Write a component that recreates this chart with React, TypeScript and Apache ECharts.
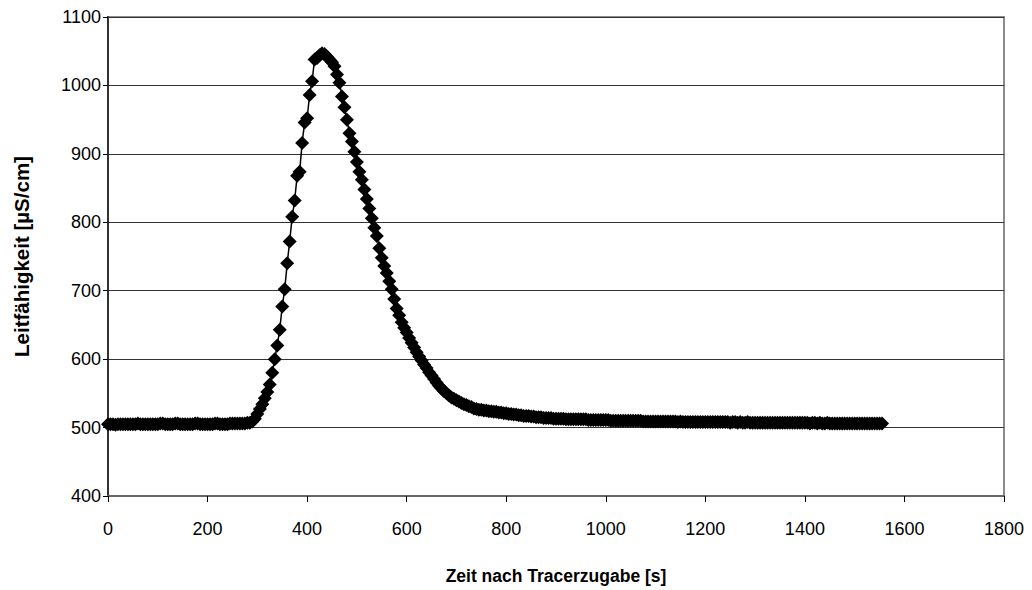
import React, { useEffect, useRef } from "react";
import * as echarts from "echarts";

// Axis ticks
const xTicks = { min: 0, max: 1800, interval: 200 };
const yTicks = { min: 400, max: 1100, interval: 100 };

const xAxisTitle = "Zeit nach Tracerzugabe [s]";
const yAxisTitle = "Leitfähigkeit [µS/cm]";

// Logger sampling interval [s]
const sampleInterval = 5;

// Conductivity readings [µS/cm], one every 5 s, split by phase
// baseline: t = 0 … 280 s
const baseline = [
  505, 505, 505, 504, 505, 505, 505, 505, 505, 505, 505, 505, 506, 505, 505, 505,
  505, 505, 505, 505, 505, 506, 506, 505, 505, 505, 505, 506, 506, 505, 505, 505,
  505, 505, 505, 506, 506, 505, 505, 505, 505, 505, 505, 506, 506, 505, 505, 505,
  505, 506, 506, 506, 506, 506, 506, 506, 507,
];
// rising limb: t = 285 … 435 s
const rise = [
  507, 509, 513, 520, 527, 534, 543, 552, 563, 580, 600, 620, 643, 677, 702, 740,
  772, 808, 832, 868, 874, 916, 946, 952, 986, 1006, 1038, 1040, 1044, 1047, 1046,
];
// falling limb: t = 440 … 800 s
const decay = [
  1042, 1038, 1034, 1028, 1016, 1004, 984, 968, 950, 930, 918, 903, 888, 874, 862,
  848, 834, 820, 806, 792, 780, 762, 748, 736, 726, 714, 702, 688, 674, 664, 654,
  646, 639, 631, 624, 617, 610, 604, 598, 592, 587, 581, 576, 571, 566, 561, 557,
  553, 550, 547, 544, 542, 540, 538, 536, 534, 533, 531, 530, 528, 527, 526, 526,
  525, 525, 524, 524, 523, 523, 522, 522, 521, 521,
];
// tail: t = 805 … 1555 s
const tail = [
  520, 520, 519, 519, 518, 518, 517, 517, 517, 516, 516, 515, 515, 515, 514, 514,
  514, 514, 513, 513, 513, 513, 513, 512, 512, 512, 512, 512, 512, 512, 512, 512,
  511, 511, 511, 511, 511, 511, 511, 511, 511, 510, 510, 510, 510, 510, 510, 510,
  510, 510, 510, 510, 510, 510, 509, 509, 509, 509, 509, 509, 509, 509, 509, 509,
  509, 509, 509, 509, 508, 509, 508, 508, 508, 508, 508, 508, 508, 508, 508, 508,
  508, 508, 508, 508, 508, 508, 508, 508, 508, 507, 508, 508, 507, 508, 507, 507,
  508, 507, 507, 507, 507, 507, 507, 507, 507, 507, 507, 507, 507, 507, 507, 507,
  507, 507, 507, 507, 507, 507, 507, 507, 507, 506, 507, 507, 506, 507, 506, 506,
  507, 506, 506, 506, 506, 506, 506, 506, 506, 506, 506, 506, 506, 506, 506, 506,
  506, 506, 506, 506, 506, 506, 506,
];

const FONT = "'Liberation Sans', Arial, sans-serif";

export default function App() {
  const ref = useRef<HTMLDivElement>(null);
  useEffect(() => {
    if (!ref.current) return;
    const chart = echarts.init(ref.current, null, { renderer: "svg" });
    const readings = [...baseline, ...rise, ...decay, ...tail];
    const data = readings.map((v, i) => [i * sampleInterval, v]);
    chart.setOption({
      animation: false,
      backgroundColor: "#ffffff",
      grid: {
        left: 108,
        right: 28,
        top: 17,
        bottom: 93,
        show: true,
        borderColor: "#8c8c8c",
        borderWidth: 2,
        backgroundColor: "transparent",
      },
      xAxis: {
        type: "value",
        min: xTicks.min,
        max: xTicks.max,
        interval: xTicks.interval,
        name: xAxisTitle,
        nameLocation: "middle",
        nameGap: 71,
        nameTextStyle: { fontFamily: FONT, fontSize: 17.5, fontWeight: "bold", color: "#000" },
        axisLine: { show: true, lineStyle: { color: "#666", width: 2 } },
        axisTick: { show: true, inside: false, length: 6, lineStyle: { color: "#000", width: 1 } },
        axisLabel: {
          fontFamily: FONT,
          fontSize: 18,
          color: "#000",
          margin: 24,
          formatter: (v: number) => String(v),
        },
        splitLine: { show: false },
      },
      yAxis: {
        type: "value",
        min: yTicks.min,
        max: yTicks.max,
        interval: yTicks.interval,
        name: yAxisTitle,
        nameLocation: "middle",
        nameGap: 76,
        nameRotate: 90,
        nameTextStyle: { fontFamily: FONT, fontSize: 20.5, fontWeight: "bold", color: "#000" },
        axisLine: { show: true, lineStyle: { color: "#333", width: 2 } },
        axisTick: { show: true, inside: false, length: 5, lineStyle: { color: "#000", width: 1 } },
        axisLabel: {
          fontFamily: FONT,
          fontSize: 18,
          color: "#000",
          margin: 7,
          formatter: (v: number) => String(v),
        },
        splitLine: { show: true, lineStyle: { color: "#333", width: 1 } },
      },
      series: [
        {
          type: "line",
          data,
          symbol: "diamond",
          symbolSize: 14,
          showAllSymbol: true,
          itemStyle: { color: "#000" },
          lineStyle: { color: "#000", width: 1.5 },
          z: 3,
        },
      ],
    });
    return () => chart.dispose();
  }, []);
  return (
    <div
      ref={ref}
      style={{ position: "fixed", left: 0, top: 0, width: 1032, height: 590 }}
    />
  );
}
